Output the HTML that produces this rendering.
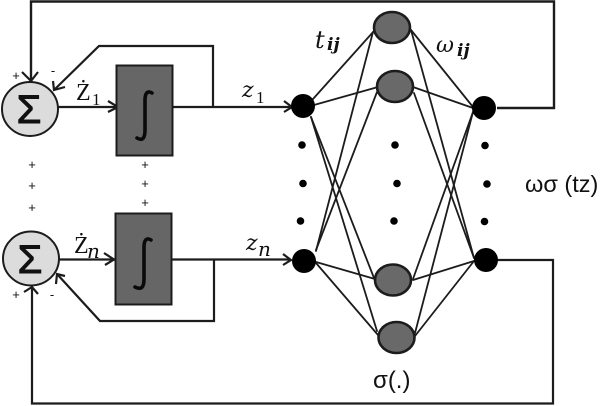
<!DOCTYPE html>
<html>
<head>
<meta charset="utf-8">
<style>
html,body{margin:0;padding:0;background:#fff;}
svg{display:block;}
text{fill:#111;}
.s{font-family:"Liberation Sans",sans-serif;}
.m{font-family:"DejaVu Serif","Liberation Serif",serif;font-style:italic;}
.z{font-family:"Liberation Serif",serif;}
</style>
</head>
<body>
<svg width="602" height="406" viewBox="0 0 602 406" xmlns="http://www.w3.org/2000/svg">
<g fill="none" stroke="#1c1c1c" stroke-width="1.8" stroke-linecap="round">
  <!-- first layer -->
  <path d="M313 99L374 31"/>
  <path d="M314 105L378 87"/>
  <path d="M311 117L374 278"/>
  <path d="M311 117L377 331"/>
  <path d="M316 251L373 32"/>
  <path d="M316 250L377 92"/>
  <path d="M316 262L375 279"/>
  <path d="M316 263L378 335"/>
  <!-- second layer -->
  <path d="M411 30L473 107"/>
  <path d="M413 87L473 108"/>
  <path d="M413 279L473 112"/>
  <path d="M415 333L473 112"/>
  <path d="M411 30L474 258"/>
  <path d="M414 93L474 258"/>
  <path d="M413 280L474 261"/>
  <path d="M415 336L474 261"/>
</g>
<g fill="none" stroke="#1c1c1c" stroke-width="2.2">
  <path d="M31 82V1.5H554V108H497" stroke-width="2.4"/>
  <path d="M32 286V403.5H553V260H497"/>
  <path d="M173 107H290"/>
  <path d="M213 107V46H99L54 90"/>
  <path d="M172 259.500H290"/>
  <path d="M214 260V321H100L57 274"/>
  <path d="M58 107H116"/>
  <path d="M59 259.500H115"/>
  <!-- arrowheads -->
  <path d="M22 72L31 81L38 72"/>
  <path d="M53 81L54 90L65 87"/>
  <path d="M108 101L118 107L108 112"/>
  <path d="M284 101L292 107L284 112"/>
  <path d="M104 253L114 259.500L105 265"/>
  <path d="M283 254L291 260L283 265"/>
  <path d="M56 284L57 274L65 276"/>
  <path d="M24 292L32 287L38 294"/>
</g>
<!-- sum circles -->
<ellipse cx="30" cy="109" rx="28" ry="27" fill="#dcdcdc" stroke="#1c1c1c" stroke-width="2"/>
<ellipse cx="31" cy="258.500" rx="28" ry="27" fill="#dcdcdc" stroke="#1c1c1c" stroke-width="2"/>
<text x="29" y="123" class="s" font-size="40" text-anchor="middle" stroke="#111" stroke-width="1">Σ</text>
<text x="30" y="273" class="s" font-size="40" text-anchor="middle" stroke="#111" stroke-width="1">Σ</text>
<!-- integrators -->
<rect x="116.500" y="65.500" width="56" height="90" fill="#666" stroke="#1c1c1c" stroke-width="2"/>
<rect x="115.500" y="213.500" width="56" height="91" fill="#666" stroke="#1c1c1c" stroke-width="2"/>
<g fill="none" stroke="#0a0a0a" stroke-width="3.600" stroke-linecap="round">
  <path d="M152 93C147 90 145 94 145 100V130C145 139 142 141 137 138"/>
  <path d="M151 240C146 237 144 241 144 247V279C144 288 141 290 135 287"/>
</g>
<!-- neurons -->
<g fill="#000">
  <circle cx="303" cy="106" r="12"/>
  <circle cx="304" cy="261" r="12"/>
  <circle cx="484" cy="108" r="12"/>
  <circle cx="486" cy="260" r="12"/>
</g>
<g fill="#696969" stroke="#1c1c1c" stroke-width="2.600">
  <ellipse cx="392" cy="27.500" rx="18" ry="15.500"/>
  <ellipse cx="395" cy="86.500" rx="18" ry="15.500"/>
  <ellipse cx="393" cy="280" rx="18" ry="15.500"/>
  <ellipse cx="396.500" cy="337.500" rx="18" ry="15.500"/>
</g>
<!-- dots -->
<g fill="#000">
  <circle cx="302" cy="145" r="3.800"/><circle cx="303" cy="183.500" r="3.800"/><circle cx="300.500" cy="221" r="3.800"/>
  <circle cx="395" cy="145" r="3.800"/><circle cx="397" cy="183.500" r="3.800"/><circle cx="394" cy="221" r="3.800"/>
  <circle cx="485" cy="145.500" r="3.800"/><circle cx="487" cy="184" r="3.800"/><circle cx="484.500" cy="221.500" r="3.800"/>
</g>
<!-- plus / minus -->
<g class="s" font-size="13" text-anchor="middle">
  <text x="16" y="80">+</text>
  <text x="53" y="75">-</text>
  <text x="32" y="169">+</text><text x="32" y="190">+</text><text x="32" y="212">+</text>
  <text x="145" y="169">+</text><text x="145" y="188">+</text><text x="145" y="207">+</text>
  <text x="16" y="299">+</text>
  <text x="52" y="299">-</text>
</g>
<!-- labels -->
<text x="76" y="100" class="z" font-size="24">Ż</text>
<text x="92" y="105" class="z" font-size="17">1</text>
<text x="74" y="253" class="z" font-size="24">Ż</text>
<text x="87" y="258" class="m" font-size="20">n</text>
<g class="m">
  <text x="242" y="97" font-size="22">z</text><text x="256" y="103" class="z" font-size="17" font-style="normal">1</text>
  <text x="246" y="250" font-size="22">z</text><text x="258" y="256" font-size="20">n</text>
  <text x="315" y="48" font-size="24">t</text><text x="327" y="50" font-size="17" font-weight="bold">ij</text>
  <text x="436" y="52" font-size="22">ω</text><text x="457" y="56" font-size="17" font-weight="bold">ij</text>
</g>
<text x="525" y="192" class="s" font-size="23.500">ωσ (tz)</text>
<text x="373" y="388" class="s" font-size="24">σ(.)</text>
</svg>
</body>
</html>
